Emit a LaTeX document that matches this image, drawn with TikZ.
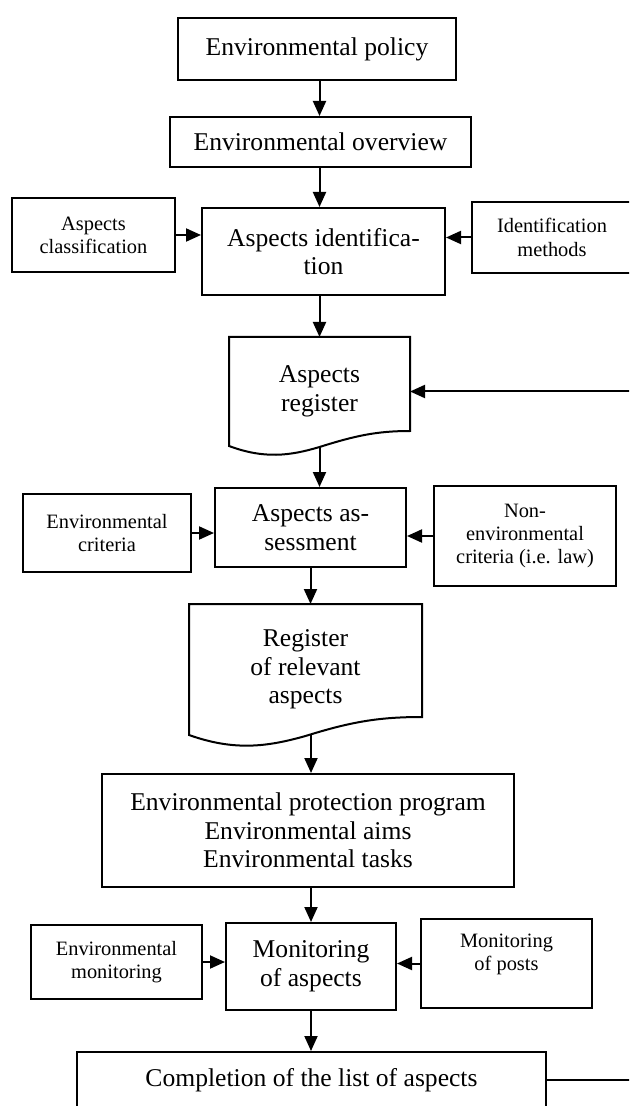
\documentclass[tikz,border=0pt]{standalone}
\usepackage{fontspec}
\setmainfont{Liberation Serif}
\usetikzlibrary{arrows.meta, calc}

\begin{document}
\begin{tikzpicture}[
    x=0.5pt, y=-0.5pt,
    box/.style={draw, line width=1pt, align=center, inner sep=0pt, font=\fontsize{12.8pt}{14.3pt}\selectfont},
    side/.style={box, font=\fontsize{10.2pt}{11.6pt}\selectfont},
    doc/.style={box, draw=none},
    outline/.style={line width=1pt, line join=miter},
    arr/.style={-{Triangle[length=7.5pt, width=6.5pt]}, line width=1pt}
]
\path[use as bounding box, fill=white] (0,0) rectangle (629,1106);
\clip (0,0) rectangle (629,1106);

% main column
\node[box, minimum width=139pt, minimum height=31pt] (policy) at (317,49) {Environmental policy};
\node[box, minimum width=150.5pt, minimum height=25pt] (ov) at (320.5,142) {Environmental overview};
\node[box, minimum width=121.5pt, minimum height=43.5pt] (ident) at (323.5,251.5) {Aspects identifica-\\tion};
\node[doc, minimum width=89.5pt, minimum height=53.5pt] (reg) at (319.5,391.5) {Aspects\\register};
\node[box, minimum width=95.5pt, minimum height=39.5pt] (assess) at (310.5,527.5) {Aspects as-\\sessment};
\node[doc, minimum width=115.5pt, minimum height=64.5pt] (relreg) at (305.5,669.5) {Register\\of relevant\\aspects};
\node[box, minimum width=206pt, minimum height=56.5pt] (prog) at (308,830.5) {Environmental protection program\\Environmental aims\\Environmental tasks};
\node[box, minimum width=85pt, minimum height=43.5pt] (mon) at (311,966.5) {Monitoring\\of aspects};
\node[box, minimum width=234.5pt, minimum height=28pt] (compl) at (311.5,1080) {Completion of the list of aspects};

% side inputs
\node[side, minimum width=81.5pt, minimum height=37pt] (class) at (93.5,235) {Aspects\\classification};
\node[side, minimum width=80pt, minimum height=35.5pt] (methods) at (552,237.5) {Identification\\methods};
\node[side, minimum width=84pt, minimum height=39pt] (envcrit) at (107,533) {Environmental\\criteria};
\node[side, minimum width=91pt, minimum height=50pt] (nonenv) at (525,536) {Non-\\environmental\\criteria (i.e. law)};
\node[side, minimum width=85.5pt, minimum height=37pt] (envmon) at (116.5,962) {Environmental\\monitoring};
\node[side, minimum width=85.5pt, minimum height=44.5pt] (posts) at (506.5,963.5) {Monitoring\\of posts\\\mbox{}};

% document outlines
\draw[outline] (reg.south west) -- (reg.north west) -- (reg.north east) -- ($(reg.south east)+(0,-15)$)
    .. controls +(-34,0) and +(35,-11) .. ($(reg.south)+(0,1)$)
    .. controls +(-30,9) and +(35,13) .. (reg.south west) -- cycle;
\draw[outline] (relreg.south west) -- (relreg.north west) -- (relreg.north east) -- ($(relreg.south east)+(0,-18)$)
    .. controls +(-44,0) and +(45,-14) .. ($(relreg.south)+(0,1)$)
    .. controls +(-39,11) and +(45,16) .. (relreg.south west) -- cycle;

\draw[arr] (policy.south -| reg.north) -- (ov.north -| reg.north);
\draw[arr] (ov.south -| reg.north) -- (ident.north -| reg.north);
\draw[arr] (class.east) -- (class.east -| ident.west);
\draw[arr] (methods.west) -- (methods.west -| ident.east);
\draw[arr] (ident.south -| reg.north) -- (reg.north);
\draw[arr] (reg.south) -- (reg.south |- assess.north);
\draw[arr] (envcrit.east) -- (envcrit.east -| assess.west);
\draw[arr] (nonenv.west) -- (nonenv.west -| assess.east);
\draw[arr] (assess.south) -- (assess.south |- relreg.north);
\draw[arr] (relreg.south -| mon.north) -- (prog.north -| mon.north);
\draw[arr] (prog.south -| mon.north) -- (mon.north);
\draw[arr] (envmon.east) -- (envmon.east -| mon.west);
\draw[arr] (posts.west) -- (posts.west -| mon.east);
\draw[arr] (mon.south) -- (mon.south |- compl.north);
\draw[arr] (compl.east) -- ++(110,0) |- (reg.east);
\end{tikzpicture}
\end{document}
